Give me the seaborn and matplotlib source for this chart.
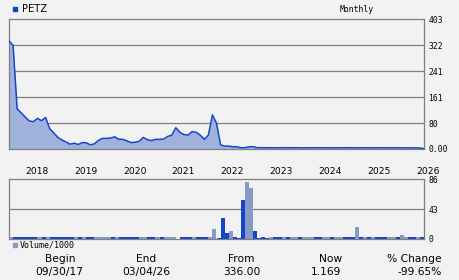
import numpy as np
import pandas as pd
import matplotlib
matplotlib.use("Agg")
import matplotlib.pyplot as plt
from matplotlib.patches import Rectangle
import seaborn as sns

# ---------------- data ----------------
start_month = "2017-09-01"
price = [336, 322, 125, 112, 99, 87, 85, 95, 88, 98,
         63, 50, 36, 28, 22, 15, 18, 14, 20, 19,
         13, 16, 27, 33, 33, 34, 38, 30, 30, 25,
         20, 21, 24, 36, 29, 26, 30, 30, 31, 39,
         43, 66, 52, 45, 43, 54, 52, 43, 30, 43,
         106, 80, 13, 9, 9, 7, 7, 4, 4, 7,
         7, 4, 4.0, 3.8, 4.0, 3.9, 3.7, 4.0, 4.1, 3.8,
         3.9, 4.0, 3.6, 3.8, 3.9, 4.0, 3.7, 3.8, 3.9, 3.6,
         3.8, 3.7, 3.9, 4.0, 3.8, 3.6, 3.7, 3.9, 3.8, 3.6,
         3.7, 3.8, 3.9, 3.6, 3.5, 3.7, 3.8, 3.6, 3.4, 3.5,
         3.3, 3.0, 1.169]

volume = [2.5, 2.5, 2.5, 2.5, 2.5, 2.5, 2.5, 2.5, 2.5, 2.5,
          2.5, 2.5, 2.5, 2.5, 2.5, 2.5, 2.5, 2.5, 2.5, 2.5,
          2.5, 2.5, 2.5, 2.5, 2.5, 2.5, 2.5, 2.5, 2.5, 2.5,
          2.5, 2.5, 2.5, 2.5, 2.5, 2.5, 2.5, 2.5, 2.5, 2.5,
          2.5, 0.0, 2.5, 2.5, 2.5, 2.5, 2.5, 2.5, 2.5, 2.5,
          14.4, 1.5, 30, 8.6, 11.5, 2.9, 1.0, 56, 82, 73,
          11.5, 1.0, 2.9, 1.0, 2.5, 2.5, 2.5, 2.5, 2.5, 2.5,
          2.5, 2.5, 2.5, 2.5, 2.5, 2.5, 2.5, 2.5, 2.5, 2.5,
          2.5, 2.5, 2.5, 2.5, 2.5, 18, 2.5, 2.5, 2.5, 2.5,
          2.5, 2.5, 2.5, 2.5, 2.5, 2.5, 6, 2.5, 2.5, 2.5,
          2.5, 2.5]
# L = up month (light bar), D = down month (dark bar), ten months per group
direction = list("LDDDDDDLDL" "DDDDDDLDLD" "DLLLLDLDDD" "DDLLDDLDLL"
                 "LLDDDLDDDL" "LDDDLDDDLL" "DDDDLDDLDL" "LDLLLDDLLD"
                 "LLDDDLDLDL" "DDDLLDLLDD" "LD")

year_labels = ["2018", "2019", "2020", "2021", "2022", "2023", "2024", "2025", "2026"]
price_ticks = [0, 80, 161, 241, 322, 403]
price_tick_labels = ["0.00", "80", "161", "241", "322", "403"]
vol_ticks = [0, 43, 86]
vol_tick_labels = ["0", "43", "86"]
stat_labels = ["Begin", "End", "From", "Now", "% Change"]
stat_values = ["09/30/17", "03/04/26", "336.00", "1.169", "-99.65%"]

# ---------------- styles ----------------
BG = "#f2f2f2"
GRID = "#808080"
LINE = "#1246c8"
FILL = "#a0b1dc"
DARK = "#1246c8"
LIGHT = "#8799c6"
W, H = 460, 280

months = pd.date_range(start_month, periods=len(price), freq="MS")
t = np.array([d.year + (d.month - 1) / 12 for d in months])
tv = t[:len(volume)]
bar_colors = [LIGHT if c == "L" else DARK for c in direction[:len(volume)]]

plt.rcParams["font.family"] = ["DejaVu Sans"]
fig = plt.figure(figsize=(W / 100, H / 100), dpi=100, facecolor=BG)

def fx(px):
    return px / W

def fy(py):
    return 1 - py / H

ax1 = fig.add_axes([fx(9), fy(149), fx(415), 129.7 / H])
ax2 = fig.add_axes([fx(9), fy(239), fx(415), 59.7 / H])

mono = "DejaVu Sans Mono"
for ax in (ax1, ax2):
    ax.set_facecolor(BG)
    for s in ax.spines.values():
        s.set_color(GRID)
        s.set_linewidth(0.9)
    ax.set_xlim(t[0], t[-1])
    ax.yaxis.tick_right()
    ax.tick_params(axis="both", length=0)
    ax.tick_params(axis="y", pad=3, labelsize=5.8)

# price panel
ax1.fill_between(t, price, 0, color=FILL, lw=0, zorder=2)
sns.lineplot(x=t, y=price, ax=ax1, color=LINE, lw=1.1, zorder=3)
ax1.set_ylim(0, 403)
ax1.set_yticks(price_ticks)
ax1.set_yticklabels(price_tick_labels, fontfamily=mono)
for v in price_ticks[1:-1]:
    ax1.axhline(v, color=GRID, lw=0.9, zorder=1)
ax1.set_xticks([int(y) for y in year_labels])
ax1.set_xticklabels(year_labels, ha="left", fontsize=6.6)
ax1.tick_params(axis="x", pad=13)
ax1.set_xlabel("")
ax1.set_ylabel("")

# volume panel
ax2.bar(tv, volume, width=1 / 12, align="edge", color=bar_colors, lw=0, zorder=2)
ax2.set_ylim(0, 86)
ax2.set_yticks(vol_ticks)
ax2.set_yticklabels(vol_tick_labels, fontfamily=mono)
ax2.axhline(43, color=GRID, lw=0.9, zorder=1)
ax2.set_xticks([])

# header
fig.patches.append(Rectangle((fx(12.7), fy(11.3)), fx(4.5), 4.6 / H, color=DARK,
                             transform=fig.transFigure, figure=fig))
fig.text(fx(22.5), fy(9), "PETZ", ha="left", va="center", fontsize=7.2)
fig.text(fx(357), fy(9), "Monthly", ha="center", va="center", fontsize=5.9, family=mono)

# volume legend
fig.patches.append(Rectangle((fx(13.3), fy(246.7)), fx(4), 4 / H, color=LIGHT,
                             transform=fig.transFigure, figure=fig))
fig.text(fx(19.3), fy(244.7), "Volume/1000", ha="left", va="center", fontsize=6.0, family=mono)

# stats
label_x = [60.5, 146, 241, 330.5, 414.5]
value_x = [59.5, 146.5, 242, 326, 420]
for lx, vx, lab, val in zip(label_x, value_x, stat_labels, stat_values):
    fig.text(fx(lx), fy(259.5), lab, ha="center", va="center", fontsize=7.7)
    fig.text(fx(vx), fy(272), val, ha="center", va="center", fontsize=7.7)

fig.savefig("out.png", dpi=100, facecolor=BG)
